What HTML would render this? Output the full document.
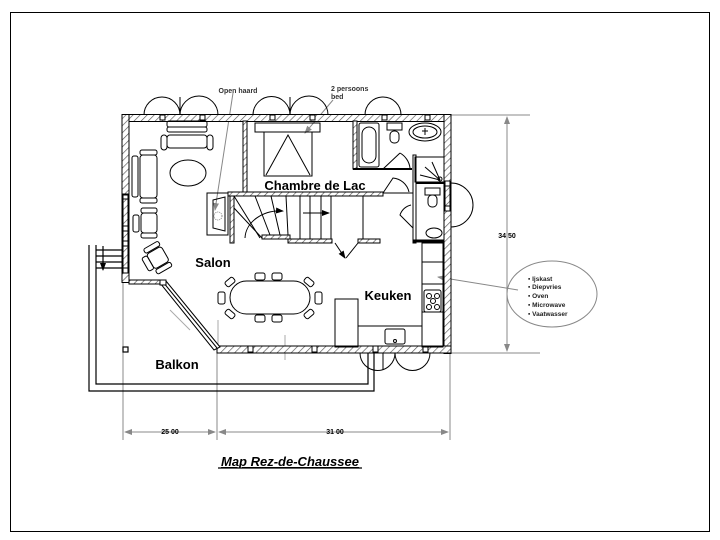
<!DOCTYPE html>
<html><head><meta charset="utf-8"><style>
html,body{margin:0;padding:0;background:#fff;}
svg{display:block;}
text{font-family:"Liberation Sans",Arial,sans-serif;}
</style></head><body>
<svg width="720" height="540" viewBox="0 0 720 540" xmlns="http://www.w3.org/2000/svg">
<defs>
<pattern id="h" width="5" height="5" patternUnits="userSpaceOnUse" patternTransform="rotate(45)">
<rect width="5" height="5" fill="#fff"/><line x1="0" y1="0" x2="0" y2="5" stroke="#555" stroke-width="1.3"/>
</pattern>
<pattern id="d" width="4" height="4" patternUnits="userSpaceOnUse">
<rect width="4" height="4" fill="#fff"/><circle cx="1" cy="1" r="0.5" fill="#777"/>
</pattern>
<marker id="a" markerWidth="8" markerHeight="8" refX="7" refY="4" orient="auto" markerUnits="userSpaceOnUse"><path d="M0,1 L8,4 L0,7 z" fill="#000"/></marker>
<marker id="g" markerWidth="8" markerHeight="8" refX="7" refY="4" orient="auto" markerUnits="userSpaceOnUse"><path d="M0,1 L8,4 L0,7 z" fill="#888"/></marker>
<marker id="gs" markerWidth="8" markerHeight="8" refX="1" refY="4" orient="auto" markerUnits="userSpaceOnUse"><path d="M8,1 L0,4 L8,7 z" fill="#888"/></marker>
</defs>
<rect x="10.5" y="12.5" width="699" height="519" fill="none" stroke="#000" stroke-width="1"/>

<!-- dimension lines -->
<g stroke="#888" stroke-width="1" fill="none">
<line x1="123" y1="283" x2="123" y2="440"/>
<line x1="217" y1="353" x2="217" y2="440"/>
<line x1="450" y1="353" x2="450" y2="440"/>
<line x1="125" y1="432" x2="215" y2="432" marker-start="url(#gs)" marker-end="url(#g)"/>
<line x1="219" y1="432" x2="448" y2="432" marker-start="url(#gs)" marker-end="url(#g)"/>
<line x1="451" y1="115" x2="530" y2="115"/>
<line x1="451" y1="353" x2="540" y2="353"/>
<line x1="507" y1="117" x2="507" y2="351" marker-start="url(#gs)" marker-end="url(#g)"/>
<line x1="518" y1="290" x2="438" y2="277" marker-end="url(#g)"/>
<line x1="233" y1="93" x2="215" y2="210" marker-end="url(#g)"/>
<line x1="333" y1="100" x2="305" y2="133" marker-end="url(#g)"/>
<line x1="218" y1="320" x2="218" y2="353" stroke="#aaa"/>
<line x1="285" y1="335" x2="285" y2="360" stroke="#aaa"/>
<line x1="170" y1="310" x2="190" y2="330" stroke="#aaa"/>
</g>
<text x="170" y="434" font-size="7" text-anchor="middle" font-weight="bold">25 00</text>
<text x="335" y="434" font-size="7" text-anchor="middle" font-weight="bold">31 00</text>
<text x="507" y="238" font-size="7" text-anchor="middle" font-weight="bold">34 50</text>

<!-- balcony -->
<g stroke="#000" stroke-width="1.2" fill="none">
<polyline points="89,245 89,391 374,391 374,353"/>
<polyline points="96,245 96,384 368,384 368,353"/>
<line x1="96" y1="250" x2="122" y2="250"/><line x1="96" y1="256" x2="122" y2="256"/>
<line x1="96" y1="262" x2="122" y2="262"/><line x1="96" y1="268" x2="122" y2="268"/>
<line x1="103" y1="246" x2="103" y2="270" marker-end="url(#a)"/>
<rect x="123" y="347" width="5" height="5"/>
</g>

<!-- door arcs -->
<g stroke="#000" stroke-width="1" fill="none">
<path d="M144,115 A18,18 0 0 1 180,115 A19,19 0 0 1 218,115"/>
<path d="M253,115 A18.5,18.5 0 0 1 290,115 A19,19 0 0 1 328,115"/>
<path d="M365,115 A18,18 0 0 1 401,115"/>
<path d="M451,183 A22,22 0 0 1 451,227"/>
<path d="M360,353 A17,17 0 0 0 395,353 A17,17 0 0 0 430,353"/>
<line x1="180" y1="97" x2="180" y2="115"/><line x1="290" y1="97" x2="290" y2="115"/>
<line x1="383" y1="353" x2="383" y2="370"/>
</g>

<!-- outer walls -->
<g fill="url(#h)" stroke="#000" stroke-width="1">
<rect x="122" y="114.5" width="329" height="7"/>
<rect x="122" y="114.5" width="7" height="168"/>
<rect x="444" y="114.5" width="7" height="239"/>
<rect x="217" y="346" width="234" height="7"/>
<rect x="129" y="280" width="34" height="4"/>
<rect x="243" y="121" width="4" height="71"/>
<rect x="228" y="192" width="155" height="4"/>
<rect x="230" y="196" width="4" height="47"/>
<rect x="262" y="235" width="28" height="4"/>
<rect x="288" y="239" width="44" height="4"/>
<rect x="358" y="239" width="22" height="4"/>
<rect x="353" y="121" width="4" height="48"/>
</g>
<polygon points="160,283 166,281 220,347 214,350" fill="#fff" stroke="#000"/>
<line x1="163" y1="282" x2="217" y2="348" stroke="#000"/>
<!-- window markers -->
<g fill="#fff" stroke="#000">
<rect x="160" y="115" width="5" height="5"/><rect x="200" y="115" width="5" height="5"/>
<rect x="270" y="115" width="5" height="5"/><rect x="310" y="115" width="5" height="5"/>
<rect x="382" y="115" width="5" height="5"/><rect x="425" y="115" width="5" height="5"/>
<rect x="123" y="194" width="5" height="5"/><rect x="123" y="226" width="5" height="5"/><rect x="123" y="241" width="5" height="5"/><rect x="123" y="268" width="5" height="5"/>
<rect x="123" y="195" width="5" height="78" fill="none"/>
<rect x="445" y="181" width="5" height="5"/><rect x="445" y="206" width="5" height="5"/><rect x="445" y="186" width="5" height="20" fill="none"/>
<rect x="248" y="346" width="5" height="6"/><rect x="312" y="346" width="5" height="6"/>
<rect x="373" y="346" width="5" height="6"/><rect x="423" y="346" width="5" height="6"/>
<rect x="160" y="280" width="6" height="5"/>
</g>

<!-- interior lines -->
<g stroke="#000" stroke-width="1" fill="none">
<rect x="207" y="193" width="21" height="42"/>
<polygon points="213,200 225,197 225,231 213,228"/>
<circle cx="218" cy="216" r="4" stroke="#888" stroke-dasharray="1,1"/>
<line x1="234" y1="196" x2="260" y2="238"/>
<line x1="234" y1="208" x2="262" y2="238"/>
<line x1="255" y1="196" x2="270" y2="235"/>
<line x1="271" y1="196" x2="280" y2="235"/>
<line x1="286" y1="196" x2="288" y2="235"/>
<line x1="300" y1="196" x2="300" y2="239"/><line x1="310" y1="196" x2="310" y2="239"/>
<line x1="321" y1="196" x2="321" y2="239"/><line x1="331" y1="196" x2="331" y2="239"/>
<line x1="363" y1="196" x2="363" y2="239"/>
<path d="M245,238 A35,28 0 0 1 283,211" marker-end="url(#a)"/>
<line x1="303" y1="213" x2="329" y2="213" marker-end="url(#a)"/>
<line x1="335" y1="243" x2="345" y2="258" marker-end="url(#a)"/>
<line x1="358" y1="243" x2="346" y2="258"/>
<!-- bathroom -->
<line x1="353" y1="169" x2="412" y2="169" stroke-width="2"/>
<rect x="359" y="123" width="20" height="44" rx="2"/>
<rect x="362" y="127" width="14" height="36" rx="7"/>
<rect x="387" y="123" width="15" height="7"/>
<rect x="390" y="131" width="9" height="12" rx="4"/>
<ellipse cx="425" cy="132" rx="16" ry="9"/><ellipse cx="425" cy="132" rx="12" ry="6"/>
<line x1="425" y1="128" x2="425" y2="135"/><line x1="422" y1="131" x2="428" y2="131"/>
<path d="M383,169 L400,153" /><path d="M400,153 A20,20 0 0 1 410,168"/>
<rect x="413" y="155" width="3" height="88"/>
<rect x="415" y="157" width="29" height="25"/>
<line x1="440" y1="180" x2="420" y2="175"/><line x1="440" y1="180" x2="432" y2="162"/><line x1="440" y1="180" x2="425" y2="167"/>
<circle cx="440" cy="179" r="2"/>
<line x1="416" y1="183" x2="444" y2="183" stroke-width="2"/>
<line x1="383" y1="193" x2="413" y2="193"/>
<path d="M383,193 L393,178 A18,18 0 0 1 409,192"/>
<rect x="425" y="188" width="15" height="7"/><rect x="428" y="195" width="9" height="12" rx="4"/>
<path d="M413,228 L400,215 A15,15 0 0 1 411,205"/>
<ellipse cx="434" cy="233" rx="8" ry="5"/>
<line x1="413" y1="241" x2="444" y2="241" stroke-width="3"/>
<!-- kitchen -->
<rect x="422" y="243" width="21" height="104"/>
<line x1="422" y1="262" x2="443" y2="262"/><line x1="422" y1="284" x2="443" y2="284"/>
<rect x="424" y="290" width="17" height="22" rx="2"/>
<circle cx="429" cy="296" r="2.5"/><circle cx="437" cy="296" r="2.5"/><circle cx="429" cy="307" r="2.5"/><circle cx="437" cy="307" r="2.5"/><circle cx="433" cy="301" r="2.5"/>
<line x1="422" y1="312" x2="443" y2="312"/>
<rect x="335" y="299" width="23" height="48"/>
<line x1="358" y1="326" x2="422" y2="326"/>
<rect x="385" y="329" width="20" height="15" rx="2"/><circle cx="395" cy="341" r="1.5"/>
<!-- chambre bed -->
<rect x="255" y="123" width="65" height="9"/>
<rect x="264" y="132" width="48" height="44"/>
<polyline points="266,175 288,135 310,175"/>
<!-- salon furniture -->
<rect x="167" y="121" width="40" height="6" rx="2"/>
<rect x="167" y="127" width="40" height="5" rx="2"/>
<rect x="167" y="135" width="40" height="13" rx="3"/>
<rect x="161" y="135" width="6" height="15" rx="3"/><rect x="207" y="135" width="6" height="15" rx="3"/>
<ellipse cx="188" cy="173" rx="18" ry="13"/>
<rect x="132" y="156" width="6" height="41" rx="2"/>
<rect x="140" y="155" width="17" height="43" rx="3"/>
<rect x="140" y="150" width="17" height="5" rx="2"/><rect x="140" y="198" width="17" height="5" rx="2"/>
<rect x="133" y="215" width="6" height="17" rx="2"/>
<rect x="141" y="213" width="16" height="20" rx="3"/>
<rect x="141" y="208" width="16" height="5" rx="2"/><rect x="141" y="233" width="16" height="5" rx="2"/>
<g transform="rotate(-30 158 257)">
<rect x="149" y="249" width="17" height="17" rx="3"/><rect x="143" y="250" width="6" height="15" rx="2"/>
<rect x="149" y="243" width="17" height="5" rx="2"/><rect x="149" y="267" width="17" height="5" rx="2"/></g>
<!-- table -->
<rect x="230" y="281" width="80" height="33" rx="16.5"/>
<rect x="255" y="273" width="10" height="7" rx="2"/><rect x="272" y="273" width="10" height="7" rx="2"/>
<rect x="255" y="315" width="10" height="7" rx="2"/><rect x="272" y="315" width="10" height="7" rx="2"/>
<rect x="218" y="292" width="7" height="12" rx="2"/><rect x="315" y="292" width="7" height="12" rx="2"/>
<rect x="225" y="279" width="10" height="6" rx="2" transform="rotate(-40 230 282)"/>
<rect x="304" y="279" width="10" height="6" rx="2" transform="rotate(40 309 282)"/>
<rect x="225" y="311" width="10" height="6" rx="2" transform="rotate(40 230 314)"/>
<rect x="304" y="311" width="10" height="6" rx="2" transform="rotate(-40 309 314)"/>
</g>

<!-- callout -->
<ellipse cx="552" cy="294" rx="45" ry="33" fill="none" stroke="#888"/>
<g font-size="6.5" font-weight="bold" fill="#222">
<text x="528" y="281">▪ Ijskast</text>
<text x="528" y="289">▪ Diepvries</text>
<text x="528" y="298">▪ Oven</text>
<text x="528" y="307">▪ Microwave</text>
<text x="528" y="316">▪ Vaatwasser</text>
</g>
<text x="238" y="93" font-size="7" font-weight="bold" text-anchor="middle" fill="#333">Open haard</text>
<text x="331" y="91" font-size="7" font-weight="bold" fill="#333">2 persoons</text>
<text x="331" y="99" font-size="7" font-weight="bold" fill="#333">bed</text>

<g font-weight="bold" font-size="13" fill="#000">
<text x="315" y="190" text-anchor="middle">Chambre de Lac</text>
<text x="213" y="267" text-anchor="middle">Salon</text>
<text x="388" y="300" text-anchor="middle">Keuken</text>
<text x="177" y="369" text-anchor="middle">Balkon</text>
</g>
<text x="290" y="466" font-size="13" font-weight="bold" font-style="italic" text-anchor="middle" text-decoration="underline">Map Rez-de-Chaussee</text>
<line x1="218" y1="468" x2="362" y2="468" stroke="#000" stroke-width="1.2"/>
</svg>
</body></html>
